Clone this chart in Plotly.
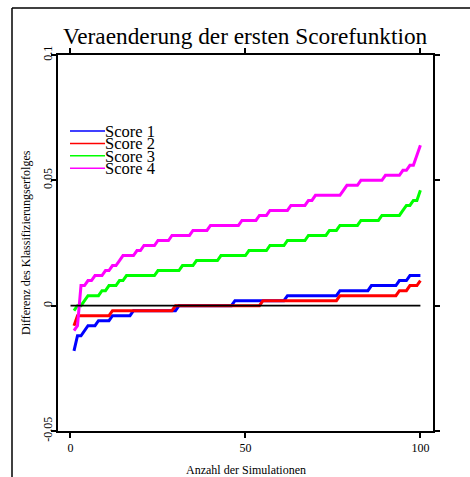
import plotly.graph_objects as go

# Simulation index (x axis)
simulation = list(range(1, 101))

# Sorted differences in classification success per score function
score_1 = [
    -0.018, -0.012, -0.012, -0.010, -0.008, -0.008, -0.008, -0.006, -0.006, -0.006,
    -0.006, -0.004, -0.004, -0.004, -0.004, -0.004, -0.004, -0.002, -0.002, -0.002,
    -0.002, -0.002, -0.002, -0.002, -0.002, -0.002, -0.002, -0.002, -0.002, -0.002,
    0.000, 0.000, 0.000, 0.000, 0.000, 0.000, 0.000, 0.000, 0.000, 0.000,
    0.000, 0.000, 0.000, 0.000, 0.000, 0.000, 0.002, 0.002, 0.002, 0.002,
    0.002, 0.002, 0.002, 0.002, 0.002, 0.002, 0.002, 0.002, 0.002, 0.002,
    0.002, 0.004, 0.004, 0.004, 0.004, 0.004, 0.004, 0.004, 0.004, 0.004,
    0.004, 0.004, 0.004, 0.004, 0.004, 0.004, 0.006, 0.006, 0.006, 0.006,
    0.006, 0.006, 0.006, 0.006, 0.006, 0.008, 0.008, 0.008, 0.008, 0.008,
    0.008, 0.008, 0.008, 0.010, 0.010, 0.010, 0.012, 0.012, 0.012, 0.012,
]
score_2 = [
    -0.008, -0.004, -0.004, -0.004, -0.004, -0.004, -0.004, -0.004, -0.004, -0.004,
    -0.004, -0.002, -0.002, -0.002, -0.002, -0.002, -0.002, -0.002, -0.002, -0.002,
    -0.002, -0.002, -0.002, -0.002, -0.002, -0.002, -0.002, -0.002, -0.002, 0.000,
    0.000, 0.000, 0.000, 0.000, 0.000, 0.000, 0.000, 0.000, 0.000, 0.000,
    0.000, 0.000, 0.000, 0.000, 0.000, 0.000, 0.000, 0.000, 0.000, 0.000,
    0.000, 0.000, 0.000, 0.000, 0.002, 0.002, 0.002, 0.002, 0.002, 0.002,
    0.002, 0.002, 0.002, 0.002, 0.002, 0.002, 0.002, 0.002, 0.002, 0.002,
    0.002, 0.002, 0.002, 0.002, 0.002, 0.002, 0.004, 0.004, 0.004, 0.004,
    0.004, 0.004, 0.004, 0.004, 0.004, 0.004, 0.004, 0.004, 0.004, 0.004,
    0.004, 0.004, 0.004, 0.006, 0.006, 0.006, 0.008, 0.008, 0.008, 0.010,
]
score_3 = [
    -0.002, 0.000, 0.000, 0.002, 0.004, 0.004, 0.004, 0.004, 0.006, 0.006,
    0.008, 0.008, 0.008, 0.010, 0.010, 0.012, 0.012, 0.012, 0.012, 0.012,
    0.012, 0.012, 0.012, 0.012, 0.014, 0.014, 0.014, 0.014, 0.014, 0.014,
    0.014, 0.016, 0.016, 0.016, 0.016, 0.018, 0.018, 0.018, 0.018, 0.018,
    0.018, 0.018, 0.020, 0.020, 0.020, 0.020, 0.020, 0.020, 0.020, 0.020,
    0.022, 0.022, 0.022, 0.022, 0.022, 0.022, 0.024, 0.024, 0.024, 0.024,
    0.024, 0.026, 0.026, 0.026, 0.026, 0.026, 0.026, 0.028, 0.028, 0.028,
    0.028, 0.028, 0.028, 0.030, 0.030, 0.030, 0.032, 0.032, 0.032, 0.032,
    0.032, 0.032, 0.034, 0.034, 0.034, 0.034, 0.034, 0.034, 0.036, 0.036,
    0.036, 0.036, 0.036, 0.036, 0.038, 0.040, 0.040, 0.042, 0.042, 0.046,
]
score_4 = [
    -0.010, -0.008, 0.008, 0.008, 0.010, 0.010, 0.012, 0.012, 0.012, 0.014,
    0.014, 0.016, 0.016, 0.018, 0.020, 0.020, 0.020, 0.020, 0.022, 0.022,
    0.024, 0.024, 0.024, 0.024, 0.026, 0.026, 0.026, 0.026, 0.028, 0.028,
    0.028, 0.028, 0.028, 0.028, 0.030, 0.030, 0.030, 0.030, 0.030, 0.032,
    0.032, 0.032, 0.032, 0.032, 0.032, 0.032, 0.032, 0.032, 0.034, 0.034,
    0.034, 0.034, 0.034, 0.036, 0.036, 0.036, 0.038, 0.038, 0.038, 0.038,
    0.038, 0.038, 0.040, 0.040, 0.040, 0.040, 0.040, 0.042, 0.042, 0.044,
    0.044, 0.044, 0.044, 0.044, 0.044, 0.044, 0.044, 0.046, 0.048, 0.048,
    0.048, 0.048, 0.050, 0.050, 0.050, 0.050, 0.050, 0.050, 0.050, 0.052,
    0.052, 0.052, 0.052, 0.052, 0.054, 0.054, 0.056, 0.056, 0.060, 0.064,
]

series_names = ["Score 1", "Score 2", "Score 3", "Score 4"]
series_values = [score_1, score_2, score_3, score_4]
series_colors = ["#0000FF", "#FF0000", "#00FF00", "#FF00FF"]

# Reference line at zero difference
ref_x = [0, 100]
ref_y = [0, 0]

x_ticks = [0, 50, 100]
y_ticks = [-0.05, 0, 0.05, 0.1]
y_tick_text = ["-0.05", "0", "0.05", "0.1"]

title_text = "Veraenderung der ersten Scorefunktion"
x_title = "Anzahl der Simulationen"
y_title = "Differenz des Klassifizierungserfolges"

SERIF = "Liberation Serif, Times New Roman, serif"
W, H = 470, 477
ML, MR, MT, MB = 58, 37, 55, 46


def fx(px):
    """Pixel column -> paper x."""
    return (px - ML) / (W - ML - MR)


def fy(py):
    """Pixel row -> paper y."""
    return (H - MB - py) / (H - MT - MB)


fig = go.Figure()
for name, vals, col in zip(series_names, series_values, series_colors):
    fig.add_trace(go.Scatter(
        x=simulation, y=vals, mode="lines", name=name,
        line=dict(color=col, width=3), showlegend=False, hoverinfo="skip",
    ))

fig.add_trace(go.Scatter(
    x=ref_x, y=ref_y, mode="lines", line=dict(color="black", width=1.8),
    showlegend=False, hoverinfo="skip",
))

axis_common = dict(
    showline=True, linecolor="black", linewidth=1.5, mirror="ticks",
    ticks="outside", ticklen=5, tickwidth=1.5, tickcolor="black",
    showgrid=False, zeroline=False,
    tickfont=dict(family=SERIF, size=12, color="black"),
)

fig.update_xaxes(range=[-3.57, 103.6], tickvals=x_ticks, **axis_common)
fig.update_yaxes(range=[-0.05, 0.1], tickvals=y_ticks, ticktext=y_tick_text,
                 tickangle=-90, ticklabelstandoff=-6, **axis_common)

annotations = [
    dict(text=title_text, x=fx(245), y=fy(36), xref="paper", yref="paper",
         xanchor="center", yanchor="middle", showarrow=False,
         font=dict(family=SERIF, size=23.3, color="black")),
    dict(text=x_title, x=fx(245.5), y=fy(469.5), xref="paper", yref="paper",
         xanchor="center", yanchor="middle", showarrow=False,
         font=dict(family=SERIF, size=12, color="black")),
    dict(text=y_title, x=fx(26), y=fy(243), xref="paper", yref="paper",
         xanchor="center", yanchor="middle", showarrow=False, textangle=-90,
         font=dict(family=SERIF, size=12, color="black")),
]

shapes = [
    # outer frame (left and top edges)
    dict(type="line", xref="paper", yref="paper", x0=fx(12), x1=fx(12),
         y0=fy(8), y1=fy(520), line=dict(color="black", width=1.5)),
    dict(type="line", xref="paper", yref="paper", x0=fx(12), x1=fx(520),
         y0=fy(8), y1=fy(8), line=dict(color="black", width=1.5)),
]

# Legend: short line samples with labels
for k, (name, col) in enumerate(zip(series_names, series_colors)):
    ly = 131 + k * 12.4
    shapes.append(dict(type="line", xref="paper", yref="paper",
                       x0=fx(70), x1=fx(105), y0=fy(ly), y1=fy(ly),
                       line=dict(color=col, width=1.5)))
    annotations.append(dict(text=name, x=fx(103), y=fy(ly + 0.5),
                            xref="paper", yref="paper", xanchor="left",
                            yanchor="middle", showarrow=False,
                            font=dict(family=SERIF, size=16.5, color="black")))

fig.update_layout(
    width=W, height=H,
    margin=dict(l=ML, r=MR, t=MT, b=MB, pad=0),
    paper_bgcolor="white", plot_bgcolor="white",
    annotations=annotations, shapes=shapes,
    showlegend=False,
)

fig.write_html("out.html", config={"displayModeBar": False})
